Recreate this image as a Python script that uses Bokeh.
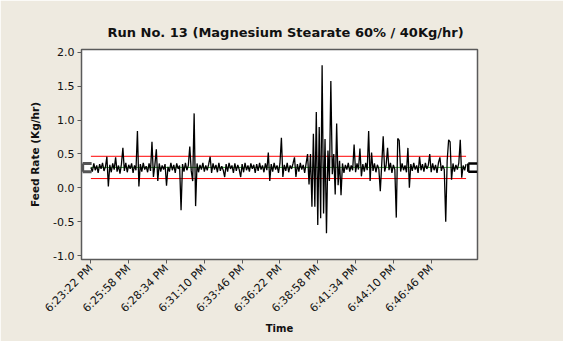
import math
from bokeh.plotting import figure
from bokeh.models import FixedTicker, Range1d, Label, BoxAnnotation
from bokeh.embed import file_html
from bokeh.resources import INLINE

title_text = "Run No. 13 (Magnesium Stearate 60% / 40Kg/hr)"
x_title = "Time"
y_title = "Feed Rate (Kg/hr)"

feed_rate = [
    0.30, 0.24, 0.36, 0.26, 0.33, 0.22, 0.35, 0.28, 0.37, 0.25, 0.31, 0.46, 0.02,
    0.34, 0.23, 0.36, 0.27, 0.45, 0.24, 0.33, 0.21, 0.35, 0.59, 0.25, 0.37, 0.23,
    0.34, 0.28, 0.36, 0.22, 0.33, 0.26, 0.84, 0.02, 0.35, 0.24, 0.37, 0.27, 0.32,
    0.23, 0.36, 0.25, 0.68, 0.16, 0.34, 0.57, 0.10, 0.36, 0.24, 0.33, 0.27, 0.35,
    0.03, 0.31, 0.24, 0.37, 0.26, 0.34, 0.22, 0.36, 0.28, 0.33, -0.33, 0.35, 0.24,
    0.37, 0.26, 0.33, 0.61, 0.25, 0.10, 1.10, -0.27, 0.36, 0.23, 0.34, 0.27, 0.37,
    0.24, 0.33, 0.26, 0.35, 0.46, 0.22, 0.36, 0.27, 0.34, 0.23, 0.37, 0.25, 0.32,
    0.26, 0.16, 0.35, 0.24, 0.37, 0.28, 0.33, 0.22, 0.36, 0.25, 0.34, 0.27, 0.16,
    0.35, 0.23, 0.37, 0.26, 0.33, 0.24, 0.36, 0.28, 0.34, 0.22, 0.35, 0.25, 0.37,
    0.27, 0.33, 0.23, 0.36, 0.26, 0.52, 0.10, 0.35, 0.24, 0.37, 0.27, 0.33, 0.22,
    0.36, 0.74, 0.16, 0.34, 0.25, 0.37, 0.23, 0.33, 0.28, 0.36, 0.45, 0.16, 0.35,
    0.24, 0.37, 0.27, 0.34, 0.22, 0.36, 0.50, 0.05, 0.50, -0.28, 0.80, -0.28, 1.12,
    -0.55, 0.90, -0.45, 1.81, -0.38, 0.72, -0.67, 0.55, 0.10, 1.58, 0.20, 0.50, -0.10,
    0.95, 0.04, 0.40, -0.11, 0.36, 0.22, 0.34, 0.27, 0.37, 0.24, 0.33, 0.26, 0.64,
    0.23, 0.36, 0.27, 0.58, 0.17, 0.35, 0.24, 0.37, 0.26, 0.84, 0.10, 0.52, 0.25,
    0.36, 0.23, 0.34, 0.28, -0.05, 0.35, 0.76, 0.24, 0.33, 0.59, 0.26, 0.37, 0.22,
    0.34, 0.27, -0.44, 0.73, 0.70, 0.24, 0.36, 0.26, 0.33, 0.23, 0.59, 0.00, 0.35,
    0.25, 0.37, 0.27, 0.33, 0.22, 0.46, 0.26, 0.35, 0.24, 0.37, 0.28, 0.33, 0.50,
    0.23, 0.36, 0.26, 0.34, 0.22, 0.37, 0.45, 0.25, 0.33, 0.27, -0.50, 0.40, 0.71,
    0.68, 0.12, 0.36, 0.24, 0.34, 0.27, 0.37, 0.71, 0.15, 0.33, 0.26, 0.35,
]
obs_index = list(range(len(feed_rate)))

time_tick_labels = ["6:23:22 PM", "6:25:58 PM", "6:28:34 PM", "6:31:10 PM", "6:33:46 PM",
                    "6:36:22 PM", "6:38:58 PM", "6:41:34 PM", "6:44:10 PM", "6:46:46 PM"]
obs_per_tick = 26
y_ticks = [-1.0, -0.5, 0.0, 0.5, 1.0, 1.5, 2.0]
y_tick_labels = ["-1.0", "-0.5", "0.0", "0.5", "1.0", "1.5", "2.0"]

ucl = 0.466
center = 0.302
lcl = 0.137
limit_labels = ["UCL=0.466", "X\u0304=0.302", "LCL=0.137"]
bracket_levels = [0.358, 0.238]

FONT = "DejaVu Sans"
BG = "#EEEAE0"
W, H = 563, 341

n = len(feed_rate)
p = figure(width=W, height=H, output_backend="svg", toolbar_location=None,
           x_range=Range1d(-6.46, 265.85), y_range=Range1d(-1.059, 2.044),
           background_fill_color="white", border_fill_color=BG,
           min_border_left=81, min_border_right=86, min_border_top=49, min_border_bottom=82)

# white page strips (left/top) and the outer panel border
cu = dict(left_units="canvas", right_units="canvas", top_units="canvas", bottom_units="canvas")
p.add_layout(BoxAnnotation(left=0, right=13, top=0, bottom=H, fill_color="white", fill_alpha=1,
                           line_color=None, level="overlay", **cu))
p.add_layout(BoxAnnotation(left=0, right=W, top=0, bottom=14, fill_color="white", fill_alpha=1,
                           line_color=None, level="overlay", **cu))
p.add_layout(BoxAnnotation(left=13.5, right=W + 10, top=14.5, bottom=H + 10, fill_alpha=0,
                           line_color="#5a5a5a", line_width=1, level="overlay", **cu))

p.title.text = title_text
p.title.align = "left"
p.title.offset = 26
p.title.text_font = FONT
p.title.text_font_size = "13px"
p.title.text_font_style = "bold"
p.title.text_color = "#111111"
p.title.standoff = 19

p.outline_line_color = "#5a5a5a"
p.outline_line_width = 1.5
p.xgrid.visible = False
p.ygrid.visible = False

# x axis
tick_pos = [i * obs_per_tick for i in range(len(time_tick_labels))]
p.xaxis.ticker = FixedTicker(ticks=tick_pos, minor_ticks=[])
p.xaxis.major_label_overrides = {t: lab for t, lab in zip(tick_pos, time_tick_labels)}
p.xaxis.major_label_orientation = math.pi / 4
p.xaxis.axis_label = x_title

# y axis
p.yaxis.ticker = FixedTicker(ticks=y_ticks, minor_ticks=[])
p.yaxis.major_label_overrides = {t: lab for t, lab in zip(y_ticks, y_tick_labels)}
p.yaxis.axis_label = y_title

for ax in (p.xaxis[0], p.yaxis[0]):
    ax.axis_line_color = None
    ax.major_tick_line_color = "#5a5a5a"
    ax.major_tick_out = 4
    ax.major_tick_in = 0
    ax.minor_tick_line_color = None
    ax.major_label_text_font = FONT
    ax.major_label_text_font_size = "11px"
    ax.major_label_text_color = "#111111"
    ax.axis_label_text_font = FONT
    ax.axis_label_text_font_size = "10.5px"
    ax.axis_label_text_font_style = "bold"
    ax.axis_label_text_color = "#111111"
    ax.major_label_standoff = 3
p.yaxis.axis_label_standoff = 9
p.xaxis.axis_label_standoff = 0
p.xaxis.axis_label_text_font_size = "10px"

# brackets at ends
x0 = p.x_range.start
p.line([x0 + 0.8, x0 + 0.8], bracket_levels, line_color="#555555", line_width=3)
for lv in bracket_levels:
    p.line([x0 + 0.8, 0.5], [lv, lv], line_color="#555555", line_width=3)
xr = n - 1 + 1.5
p.line([xr, xr], bracket_levels, line_color="black", line_width=2.5)
for lv in bracket_levels:
    p.line([xr, xr + 6], [lv, lv], line_color="black", line_width=2.5)

# limit lines
p.line([0, n - 1], [center, center], line_color="#2CA02C", line_width=1)
p.line([0, n - 1], [ucl, ucl], line_color="#FF0000", line_width=1)
p.line([0, n - 1], [lcl, lcl], line_color="#FF0000", line_width=1)

# data
p.line(obs_index, feed_rate, line_color="black", line_width=1.3)

# limit labels
for val, lab, yoff in zip([ucl, center, lcl], limit_labels, [4, 1, -5]):
    p.add_layout(Label(x=p.x_range.end, y=val, text=lab, x_offset=5, y_offset=yoff,
                       text_font=FONT, text_font_size="10.5px", text_color="#111111",
                       text_baseline="middle", text_align="left"))

open("out.html", "w").write(file_html(p, INLINE))
